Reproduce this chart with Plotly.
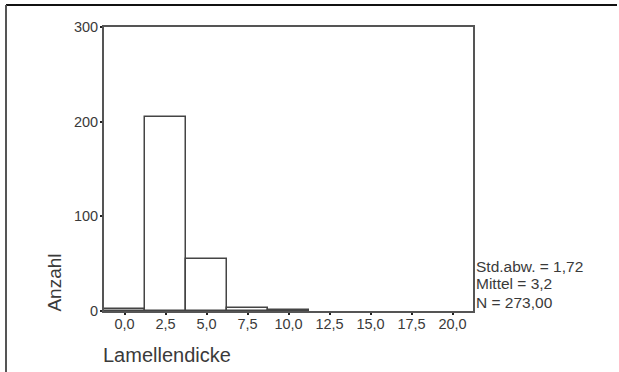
import plotly.graph_objects as go

# Data
bin_centers = [0.0, 2.5, 5.0, 7.5, 10.0]
counts = [2, 205, 55, 3, 1]
tick_vals = [0.0, 2.5, 5.0, 7.5, 10.0, 12.5, 15.0, 17.5, 20.0]
tick_text = ["0,0", "2,5", "5,0", "7,5", "10,0", "12,5", "15,0", "17,5", "20,0"]
y_ticks = [0, 100, 200, 300]
stats_lines = ["Std.abw. = 1,72", "Mittel = 3,2", "N = 273,00"]
stats_y = [47, 29, 9]

FONT = "Liberation Sans, Arial, sans-serif"
TXT = "#3a3a3a"

fig = go.Figure()
fig.add_trace(go.Bar(
    x=bin_centers, y=counts, width=2.5,
    marker=dict(color="white", line=dict(color="#444444", width=1.5)),
    showlegend=False,
))

fig.update_layout(
    width=619, height=372,
    margin=dict(l=104, r=146, t=27, b=61),
    paper_bgcolor="white", plot_bgcolor="white",
    font=dict(family=FONT, color=TXT, size=14),
    bargap=0,
    xaxis=dict(
        range=[-1.25, 21.25], tickvals=tick_vals, ticktext=tick_text,
        showgrid=False, zeroline=False, showline=True, mirror=True,
        linecolor="#555555", linewidth=2,
        ticks="outside", ticklen=2, tickwidth=2, tickcolor="#222222",
        ticklabelstandoff=-3,
        tickfont=dict(size=14.5, color=TXT, family=FONT),
    ),
    yaxis=dict(
        range=[0, 300], tickvals=y_ticks,
        showgrid=False, zeroline=False, showline=True, mirror=True,
        linecolor="#555555", linewidth=2,
        ticks="outside", ticklen=2, tickwidth=2, tickcolor="#222222",
        ticklabelstandoff=-1,
        tickfont=dict(size=14.5, color=TXT, family=FONT),
    ),
)

for line, yv in zip(stats_lines, stats_y):
    fig.add_annotation(x=1.0, y=yv, xref="paper", yref="y", text=line,
                       showarrow=False, xanchor="left", yanchor="middle", xshift=1,
                       font=dict(size=15.5, color=TXT, family=FONT))

fig.add_annotation(x=(55 - 104) / 369, y=30, xref="paper", yref="y", text="Anzahl",
                   textangle=-90, showarrow=False, xanchor="center", yanchor="middle",
                   font=dict(size=19, color=TXT, family=FONT))
fig.add_annotation(x=0.0, y=(311 - 355) / 284, xref="paper", yref="paper", text="Lamellendicke",
                   showarrow=False, xanchor="left", yanchor="middle", xshift=-3,
                   font=dict(size=20, color=TXT, family=FONT))

# Outer frame of the figure image (top and left edges only)
fx0 = (6 - 104) / 369
fx1 = (617 - 104) / 369
fytop = (311 - 5) / 284
fybot = (311 - 374) / 284
fig.add_shape(type="line", xref="paper", yref="paper", x0=fx0, x1=fx1, y0=fytop, y1=fytop,
              line=dict(color="#111111", width=2), layer="above")
fig.add_shape(type="line", xref="paper", yref="paper", x0=fx0, x1=fx0, y0=fytop, y1=fybot,
              line=dict(color="#555555", width=2), layer="above")

fig.write_html("out.html", config={"displayModeBar": False},
               post_script="document.body.style.margin='0';document.body.style.overflow='hidden';")
